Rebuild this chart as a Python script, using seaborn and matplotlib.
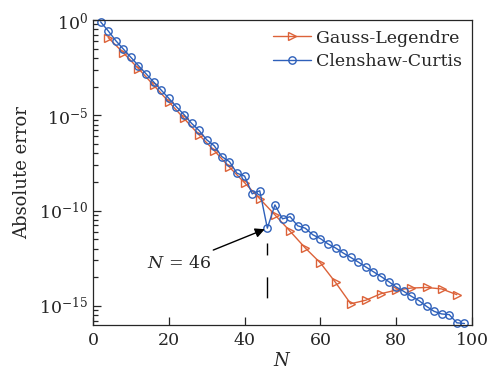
import numpy as np
import pandas as pd
import seaborn as sns
import matplotlib.pyplot as plt
import matplotlib.ticker as mticker

# Clenshaw-Curtis: N = 2, 4, ..., 98
cc_n = list(range(2, 100, 2))
cc_err = [8.0e-1, 2.7e-1, 8.3e-2, 3.0e-2, 1.1e-2, 4.0e-3, 1.5e-3, 5.6e-4, 2.1e-4, 7.8e-5,
          2.8e-5, 1.1e-5, 3.8e-6, 1.6e-6, 5.2e-7, 2.5e-7, 6.8e-8, 3.7e-8, 9.1e-9, 6.5e-9,
          7.6e-10, 1.1e-9, 1.2e-11, 2.0e-10, 3.7e-11, 4.8e-11, 1.6e-11, 1.2e-11, 5.4e-12, 3.4e-12,
          1.8e-12, 1.1e-12, 6.0e-13, 3.5e-13, 2.0e-13, 1.1e-13, 6.2e-14, 3.5e-14, 1.9e-14, 9.8e-15,
          5.8e-15, 3.2e-15, 1.9e-15, 9.5e-16, 5.2e-16, 3.8e-16, 3.5e-16, 1.3e-16, 1.2e-16]

# Gauss-Legendre: N = 4, 8, ..., 96
gl_n = list(range(4, 100, 4))
gl_err = [1.2e-1, 1.9e-2, 2.8e-3, 3.8e-4, 5.1e-5, 6.9e-6, 9.3e-7, 1.4e-7, 1.9e-8, 2.9e-9,
          4.2e-10, 6.0e-11, 8.3e-12, 1.1e-12, 1.8e-13, 1.7e-14, 1.3e-15, 2.0e-15, 4.4e-15, 6.8e-15,
          8.7e-15, 9.3e-15, 7.8e-15, 3.9e-15]

x_ticks = [0, 20, 40, 60, 80, 100]
y_major = [1e-15, 1e-10, 1e-5, 1e0]

# annotation
note_n = 46
note_err = 1.2e-11
note_text_pos = (22.7, 1.6e-13)
dash_range = (2.0e-12, 2.6e-15)

gl_color = "#DC6239"
cc_color = "#2E60BA"

sns.set_style("ticks")
plt.rcParams["font.family"] = ["DejaVu Serif"]
plt.rcParams["mathtext.fontset"] = "dejavuserif"
plt.rcParams["axes.edgecolor"] = "#262626"
plt.rcParams["axes.linewidth"] = 0.9

gl = pd.DataFrame({"N": gl_n, "err": gl_err})
cc = pd.DataFrame({"N": cc_n, "err": cc_err})

fig = plt.figure(figsize=(4.88, 3.75), dpi=100)
ax = fig.add_axes([93 / 488, 50 / 375, 379 / 488, 305 / 375])

sns.lineplot(data=gl, x="N", y="err", ax=ax, color=gl_color, lw=1.0, marker=">",
             markersize=6, markerfacecolor="none", markeredgecolor=gl_color,
             markeredgewidth=1.0, label="Gauss-Legendre", clip_on=False)
sns.lineplot(data=cc, x="N", y="err", ax=ax, color=cc_color, lw=1.0, marker="o",
             markersize=5.3, markerfacecolor="none", markeredgecolor=cc_color,
             markeredgewidth=1.0, label="Clenshaw-Curtis", clip_on=False)

ax.set_yscale("log")
ax.set_xlim(0, 100)
ax.set_ylim(1e-16, 1)
ax.set_xticks(x_ticks)
ax.yaxis.set_major_locator(mticker.FixedLocator(y_major))
ax.yaxis.set_major_formatter(mticker.FuncFormatter(lambda v, p: r"$10^{%d}$" % round(np.log10(v))))
ax.yaxis.set_minor_locator(mticker.LogLocator(base=1e5, subs=[k ** 5 for k in range(2, 10)], numticks=20))
ax.yaxis.set_minor_formatter(mticker.NullFormatter())
ax.tick_params(which="both", direction="in", labelsize=12.5, color="#262626")
ax.tick_params(which="major", length=5.8, width=0.9)
ax.tick_params(which="minor", length=3.3, width=0.9)
ax.tick_params(axis="x", pad=5)

ax.set_xlabel("$N$", fontsize=13, labelpad=2)
ax.set_ylabel("Absolute error", fontsize=13, labelpad=6)

ax.annotate("$N$ = 46", xy=(note_n, note_err), xytext=note_text_pos, fontsize=12.5,
            ha="center", va="center",
            arrowprops=dict(arrowstyle="-|>", color="black", lw=1.0, shrinkA=4, shrinkB=2,
                            mutation_scale=14))
ax.plot([note_n, note_n], list(dash_range), color="black", lw=1.0, dashes=(8.6, 15.8, 15.1, 40))

ax.legend(loc="upper right", frameon=False, fontsize=12.5, handlelength=2.2,
          handletextpad=0.3, labelspacing=0.4, borderaxespad=0.15)

fig.savefig("out.png", dpi=100)
